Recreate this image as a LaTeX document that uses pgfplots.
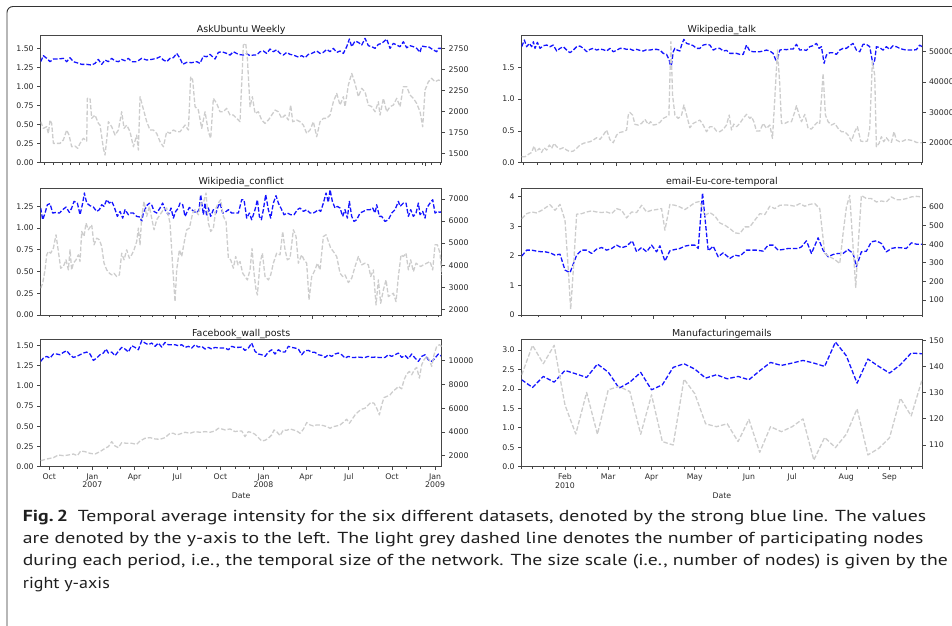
\documentclass[border=0pt]{standalone}
\usepackage{pgfplots}
\pgfplotsset{compat=1.18}
\usepackage{fontspec}
\usepackage{graphicx}
\setmainfont{DejaVu Sans}
\newfontfamily\capfont{PT Sans}
\definecolor{gry}{RGB}{205,205,205}
\definecolor{blu}{RGB}{20,20,255}
\definecolor{spine}{RGB}{70,70,70}
\definecolor{tl}{RGB}{40,40,40}
\newlength\capw
\newcommand\fitline[2]{\settowidth{\capw}{#2}\pgfmathsetmacro\capsx{#1/\capw}\scalebox{\capsx}[1]{#2}}
\pgfplotsset{
  base/.style={scale only axis, height=127bp, xmin=0, xmax=120.3, clip=true,
    axis line style={draw=spine, line width=0.7bp, -},
    tick style={draw=spine, line width=0.7bp},
    tick align=outside, major tick length=3.5bp, minor tick length=2bp,
    tick label style={font=\fontsize{7.8}{9}\selectfont, text=tl},
    scaled ticks=false},
  L/.style={base, width=401bp},
  R/.style={base, width=400.3bp},
  lft/.style={xtick pos=bottom, ytick pos=left, ymin=0,
     title style={at={(0.5,1)}, anchor=base, yshift=-2.5bp, inner sep=0pt, font=\fontsize{9.5}{11}\selectfont, text=black!90}},
  rgt/.style={axis x line=none, axis y line*=right, xtick=\empty},
  blu/.style={color=blu, line width=1.3bp, dash pattern=on 4.5bp off 2bp, no markers, line join=round},
  gry/.style={color=gry, line width=1.3bp, dash pattern=on 4.5bp off 2bp, no markers, line join=round},
}
\begin{document}
\begin{tikzpicture}
\useasboundingbox (0,0) rectangle (952bp,-626bp);
\draw[black!80, line width=0.9bp, rounded corners=6bp] (7bp,-626bp) -- (7bp,-6.5bp) -- (952bp,-6.5bp);

% ---------------- AskUbuntu Weekly
\begin{axis}[L, lft, at={(40.7bp,-162.7bp)}, anchor=south west, title={AskUbuntu Weekly}, ymax=1.666,
  ytick={0,0.25,0.5,0.75,1,1.25,1.5}, yticklabels={0.00,0.25,0.50,0.75,1.00,1.25,1.50},
  xtick={19.6,51.3,83.0,115.3}, xticklabels={}, minor xtick={1.12,3.76,...,120}]
\addplot[blu] coordinates {(0,1.325)(0.8,1.404)(1.8,1.369)(2.8,1.325)(3.8,1.36)(5.3,1.36)(6.8,1.369)(7.8,1.325)(8.8,1.377)(9.8,1.325)(10.8,1.312)(12.3,1.29)(13.8,1.29)(15.3,1.281)(16.3,1.303)(17.3,1.355)(18.3,1.29)(19.3,1.347)(20.3,1.325)(21.3,1.369)(22.3,1.334)(23.3,1.325)(24.3,1.355)(25.3,1.338)(26.3,1.369)(27.3,1.325)(28.8,1.325)(30.3,1.369)(31.8,1.347)(33.3,1.355)(34.8,1.369)(35.8,1.39)(36.8,1.347)(37.8,1.325)(38.8,1.369)(39.8,1.377)(40.8,1.434)(41.8,1.369)(42.6,1.29)(43.8,1.316)(45.3,1.312)(46.8,1.325)(47.8,1.303)(48.8,1.399)(49.8,1.39)(50.8,1.421)(52.3,1.36)(53.3,1.447)(54.3,1.456)(55.8,1.434)(56.8,1.412)(57.8,1.456)(59.3,1.421)(60.8,1.412)(61.8,1.43)(62.8,1.404)(63.8,1.412)(64.8,1.412)(65.8,1.456)(66.8,1.465)(67.8,1.434)(68.8,1.491)(69.8,1.456)(70.8,1.482)(71.8,1.434)(72.8,1.412)(73.8,1.447)(74.8,1.421)(75.8,1.412)(77.3,1.386)(78.3,1.404)(79.3,1.377)(80.3,1.421)(81.3,1.434)(82.8,1.465)(83.8,1.434)(84.8,1.447)(85.8,1.487)(86.8,1.456)(87.8,1.5)(88.8,1.447)(89.8,1.465)(90.8,1.434)(91.8,1.522)(92.6,1.622)(93.3,1.522)(94.3,1.596)(95.3,1.578)(96.3,1.543)(97.3,1.631)(98.3,1.535)(99.3,1.522)(100.3,1.5)(101.3,1.552)(102.3,1.565)(103.8,1.622)(104.8,1.5)(105.8,1.565)(106.8,1.543)(107.8,1.522)(108.8,1.587)(109.8,1.508)(110.8,1.535)(111.8,1.522)(112.8,1.5)(113.8,1.447)(114.3,1.53)(115.3,1.522)(116.3,1.522)(117.8,1.478)(118.8,1.456)(119.3,1.5)(120.3,1.5)};
\end{axis}
\begin{axis}[L, rgt, at={(40.7bp,-162.7bp)}, anchor=south west, ymin=1389, ymax=2901,
  ytick={1500,1750,2000,2250,2500,2750}, yticklabels={1500,1750,2000,2250,2500,2750}]
\addplot[gry] coordinates {(0,1877)(0.8,1798)(1.8,1817)(2.3,1738)(2.8,1897)(3.3,1857)(3.8,1619)(4.8,1619)(5.8,1619)(6.8,1659)(7.8,1778)(8.5,1718)(9.3,1579)(10.3,1587)(11.1,1560)(11.8,1619)(12.8,1679)(13.8,1647)(14.0,2155)(14.8,2155)(15.3,1917)(16.3,1956)(17.3,1857)(17.8,1837)(18.8,1560)(19.3,1480)(19.8,1659)(20.3,1877)(21.3,1817)(22.3,1718)(23.3,1778)(24.3,1996)(25.0,1798)(25.8,1837)(26.8,1758)(27.8,1579)(28.8,1718)(29.3,1540)(29.8,2175)(30.6,2056)(31.8,1877)(32.8,1778)(33.8,1778)(34.8,1738)(35.8,1639)(36.8,1579)(37.8,1758)(38.8,1738)(39.8,1778)(40.8,1758)(41.8,1758)(43.3,1837)(44.3,1778)(45.0,2413)(45.6,2373)(46.3,2056)(47.3,2016)(48.3,1798)(49.3,1996)(50.3,1758)(51.0,1679)(51.8,2155)(52.8,2095)(53.8,1996)(54.8,1996)(55.8,2036)(56.8,1956)(57.8,1956)(58.8,1917)(59.8,1877)(60.8,2790)(61.5,2810)(62.0,2631)(62.8,2056)(63.5,2175)(64.3,1976)(65.3,1996)(66.3,1897)(67.3,1857)(68.3,1897)(69.3,1956)(70.3,2016)(71.3,1996)(72.3,1917)(73.3,1956)(74.3,1897)(75.0,2075)(75.6,1877)(76.8,1897)(77.8,1877)(78.8,1837)(79.8,1738)(80.8,1778)(81.8,1877)(82.8,1698)(83.8,1877)(84.8,1917)(85.8,1917)(86.8,1956)(87.8,2115)(88.8,2214)(89.8,2075)(90.8,2175)(91.3,2056)(92.3,2314)(93.3,2452)(94.3,2333)(95.3,2175)(96.3,2274)(97.3,2234)(98.3,2075)(99.3,2056)(100.3,1996)(101.3,2115)(101.8,1956)(102.8,2155)(103.8,1996)(104.8,2056)(105.8,2075)(106.8,2155)(107.8,2056)(108.8,2294)(109.8,2294)(110.8,2194)(111.8,2155)(112.8,2095)(113.8,1996)(114.6,1817)(115.3,2254)(116.3,2353)(117.3,2393)(118.3,2353)(119.3,2373)(120.3,2365)};
\end{axis}

% ---------------- Wikipedia_talk
\begin{axis}[R, lft, at={(521.7bp,-162.7bp)}, anchor=south west, title={Wikipedia\_talk}, ymax=1.998, xmax=120.2,
  ytick={0,0.5,1,1.5}, yticklabels={0.0,0.5,1.0,1.5},
  xtick={28.5,76.3}, xticklabels={}, minor xtick={0.64,4.62,...,120}]
\addplot[blu] coordinates {(0,1.825)(0.8,1.93)(1.5,1.825)(2.3,1.877)(3.0,1.825)(3.5,1.903)(4.0,1.799)(4.7,1.893)(5.5,1.799)(6.5,1.841)(7.5,1.851)(8.5,1.825)(9.5,1.851)(10.5,1.757)(11.5,1.799)(12.5,1.825)(13.5,1.772)(14.5,1.73)(15.5,1.772)(16.5,1.825)(17.5,1.835)(18.5,1.799)(19.5,1.746)(20.5,1.783)(21.5,1.799)(22.5,1.772)(23.5,1.788)(24.5,1.778)(25.5,1.757)(26.5,1.799)(27.5,1.746)(28.5,1.767)(29.5,1.799)(30.5,1.799)(31.5,1.783)(32.5,1.788)(33.5,1.767)(34.5,1.783)(35.5,1.767)(36.5,1.757)(37.5,1.778)(38.5,1.772)(39.5,1.783)(40.5,1.783)(41.5,1.772)(42.5,1.72)(43.5,1.704)(44.3,1.615)(44.8,1.473)(45.5,1.746)(46.0,1.799)(46.7,1.772)(47.5,1.757)(48.0,1.851)(48.7,1.94)(49.5,1.877)(50.5,1.862)(51.5,1.841)(52.5,1.799)(53.5,1.799)(54.5,1.851)(55.5,1.862)(56.5,1.851)(57.5,1.772)(58.5,1.799)(59.5,1.799)(60.5,1.757)(61.5,1.767)(62.5,1.72)(63.5,1.72)(64.5,1.72)(65.5,1.704)(66.5,1.704)(67.5,1.851)(68.5,1.757)(69.5,1.746)(70.5,1.746)(71.5,1.746)(72.5,1.757)(73.5,1.772)(74.5,1.757)(75.5,1.72)(76.3,1.615)(76.8,1.626)(77.5,1.772)(78.5,1.783)(79.5,1.778)(80.5,1.788)(81.5,1.788)(82.5,1.862)(83.5,1.772)(84.5,1.778)(85.5,1.767)(86.5,1.825)(87.5,1.841)(88.5,1.877)(89.3,1.799)(90.0,1.825)(90.8,1.563)(91.5,1.694)(92.5,1.73)(93.5,1.73)(94.5,1.704)(95.5,1.772)(96.5,1.799)(97.5,1.799)(98.5,1.841)(99.5,1.877)(100.5,1.772)(101.5,1.746)(102.5,1.862)(103.5,1.862)(104.5,1.825)(105.5,1.536)(106.0,1.615)(106.5,1.825)(107.5,1.81)(108.5,1.772)(109.5,1.825)(110.5,1.783)(111.5,1.841)(112.5,1.825)(113.5,1.799)(114.5,1.783)(115.5,1.772)(116.5,1.772)(117.5,1.772)(118.5,1.778)(119.5,1.851)(120.2,1.825)};
\end{axis}
\begin{axis}[R, rgt, at={(521.7bp,-162.7bp)}, anchor=south west, ymin=13407, ymax=55275, xmax=120.2,
  ytick={20000,30000,40000,50000}, yticklabels={20000,30000,40000,50000}]
\addplot[gry] coordinates {(0,15381)(1.0,15381)(2.0,16151)(3.0,16810)(3.7,18898)(4.3,17030)(5.3,18129)(6.0,16810)(6.7,18349)(7.5,17580)(8.3,19228)(9.0,18129)(9.7,19778)(10.5,18678)(11.5,17909)(12.5,18349)(13.5,17580)(14.5,17030)(15.5,17250)(16.5,18129)(17.5,19228)(18.5,19778)(19.5,20107)(20.5,20327)(21.5,20876)(22.5,21646)(23.5,21096)(24.5,22525)(25.5,24174)(26.5,20986)(27.5,19997)(28.5,22525)(29.5,23404)(30.5,23624)(31.5,24174)(32.0,29119)(32.5,29998)(33.3,29119)(34.0,26042)(35.0,25822)(36.0,26372)(37.0,27691)(38.0,26042)(38.7,26921)(39.5,25822)(40.5,26042)(41.5,26701)(42.5,28020)(43.5,28569)(44.2,29119)(44.8,53297)(45.3,35713)(46.0,29119)(47.0,28020)(48.0,29119)(48.7,32416)(49.5,29119)(50.5,24943)(51.5,26372)(52.5,26921)(53.5,27471)(54.5,25822)(55.5,23624)(56.5,25273)(57.5,25273)(58.5,23844)(59.5,23624)(60.5,24393)(61.5,25822)(62.3,29119)(63.0,24174)(63.7,26141)(64.5,25273)(65.5,26372)(66.5,28020)(67.5,29339)(68.5,28020)(69.0,28569)(69.7,26921)(70.5,23844)(71.5,23844)(72.5,26372)(73.5,24723)(74.5,25822)(75.3,21426)(76.0,34614)(76.8,50550)(77.5,39010)(78.0,26372)(79.0,26372)(80.0,26921)(81.0,26921)(82.0,30218)(82.5,32196)(83.3,29119)(84.0,26921)(85.0,29339)(86.0,24723)(87.0,24503)(88.0,25822)(89.0,26921)(89.5,26372)(90.5,42857)(91.2,29119)(92.0,26921)(93.0,25822)(94.0,26372)(95.0,24723)(96.0,23624)(97.0,23624)(98.0,22525)(99.0,20547)(100.0,23624)(100.8,25273)(101.8,20547)(102.8,20327)(103.8,20547)(104.5,24723)(105.3,46703)(106.0,42307)(106.5,18678)(107.3,19778)(108.0,21976)(108.7,20327)(109.5,21646)(110.3,20547)(111.0,20107)(111.8,23624)(112.5,20876)(113.5,20327)(114.5,20547)(115.5,21096)(116.5,20876)(117.5,20657)(118.5,20107)(119.5,19997)(120.2,19997)};
\end{axis}

% ---------------- Wikipedia_conflict
\begin{axis}[L, lft, at={(40.7bp,-315bp)}, anchor=south west, title={Wikipedia\_conflict}, ymax=1.4615,
  ytick={0,0.25,0.5,0.75,1,1.25}, yticklabels={0.00,0.25,0.50,0.75,1.00,1.25},
  xtick={40.3,81.5}, xticklabels={}, minor xtick={2.57,6.0,...,120}]
\addplot[blu] coordinates {(0,1.231)(0.6,1.096)(1.3,1.173)(2.0,1.269)(2.8,1.281)(3.6,1.173)(4.6,1.181)(5.6,1.173)(6.6,1.212)(7.6,1.242)(8.6,1.181)(9.3,1.231)(10.0,1.308)(11.0,1.288)(11.8,1.154)(12.6,1.288)(13.1,1.404)(13.8,1.288)(14.8,1.258)(15.8,1.242)(16.8,1.192)(17.6,1.212)(18.3,1.269)(19.0,1.25)(19.8,1.327)(20.6,1.288)(21.3,1.308)(22.0,1.25)(23.0,1.135)(23.8,1.192)(24.6,1.115)(25.3,1.212)(26.3,1.154)(27.0,1.173)(27.8,1.173)(28.8,1.135)(29.8,1.127)(30.3,1.077)(30.8,1.173)(31.8,1.258)(32.6,1.288)(33.3,1.269)(34.0,1.192)(34.8,1.173)(35.8,1.231)(36.6,1.288)(37.3,1.212)(38.3,1.154)(39.1,1.231)(39.8,1.115)(40.5,1.192)(41.3,1.231)(41.8,1.288)(42.6,1.269)(43.3,1.135)(44.0,1.192)(44.6,1.238)(45.3,1.212)(46.0,1.192)(46.8,1.173)(47.5,1.212)(48.0,1.385)(48.8,1.154)(49.3,1.288)(49.8,1.135)(50.3,1.231)(51.0,1.135)(51.8,1.212)(52.6,1.173)(53.3,1.258)(53.8,1.288)(54.6,1.173)(55.3,1.181)(56.3,1.212)(57.3,1.173)(58.3,1.173)(59.3,1.173)(60.3,1.327)(61.0,1.327)(61.8,1.115)(62.6,1.173)(63.3,1.096)(64.3,1.212)(65.0,1.327)(65.6,1.135)(66.2,1.096)(66.8,1.212)(67.5,1.385)(68.3,1.212)(69.0,1.115)(69.8,1.288)(70.6,1.373)(71.3,1.288)(72.3,1.212)(73.0,1.154)(74.0,1.173)(75.0,1.154)(76.0,1.154)(77.0,1.212)(77.8,1.231)(78.8,1.192)(79.8,1.212)(80.8,1.173)(81.8,1.173)(82.6,1.192)(83.3,1.212)(84.0,1.192)(84.8,1.288)(85.6,1.404)(86.3,1.296)(86.8,1.442)(87.5,1.308)(88.3,1.231)(89.0,1.25)(89.8,1.231)(90.6,1.135)(91.3,1.212)(92.0,1.115)(92.6,1.308)(93.3,1.135)(94.0,1.077)(94.8,1.096)(95.8,1.173)(96.8,1.192)(97.8,1.212)(98.8,1.212)(99.6,1.231)(100.3,1.173)(100.8,1.269)(101.6,1.135)(102.3,1.135)(103.3,1.077)(104.3,1.096)(105.3,1.173)(106.3,1.212)(107.3,1.308)(107.8,1.25)(108.8,1.288)(109.6,1.288)(110.3,1.135)(111.0,1.212)(111.8,1.135)(112.6,1.173)(113.3,1.288)(113.8,1.154)(114.6,1.192)(115.3,1.115)(115.8,1.231)(116.8,1.288)(117.6,1.327)(118.3,1.173)(119.0,1.192)(119.8,1.181)(120.3,1.192)};
\end{axis}
\begin{axis}[L, rgt, at={(40.7bp,-315bp)}, anchor=south west, ymin=1742, ymax=7500,
  ytick={2000,3000,4000,5000,6000,7000}, yticklabels={2000,3000,4000,5000,6000,7000}]
\addplot[gry] coordinates {(0,2955)(0.6,3182)(1.3,3788)(1.8,4470)(2.3,4621)(3.0,4546)(3.8,4773)(4.6,5379)(5.3,4621)(6.0,3864)(6.8,3940)(7.6,4243)(8.3,3788)(8.8,4697)(9.3,3788)(9.8,4091)(10.6,4243)(11.3,4470)(11.8,4167)(12.3,5530)(13.0,5303)(13.6,5909)(14.3,5606)(15.3,5833)(16.0,4924)(16.8,5227)(17.6,5152)(18.3,4849)(19.0,4091)(19.8,3788)(20.6,3637)(21.3,3561)(22.0,3637)(22.8,3485)(23.6,3561)(24.3,4546)(25.0,4243)(25.8,4697)(26.6,4318)(27.3,4470)(28.0,4697)(28.8,5076)(29.3,5682)(29.8,4924)(30.3,6212)(31.0,6894)(31.8,6212)(32.6,6667)(33.3,6136)(34.0,5606)(34.8,6061)(35.8,6288)(36.8,6515)(37.8,6591)(38.8,5909)(39.6,3940)(40.3,2349)(40.8,3788)(41.6,4697)(42.3,4394)(43.0,5000)(43.8,5606)(44.6,5682)(45.6,6364)(46.3,6515)(47.3,6288)(48.1,6818)(48.8,6818)(49.6,7273)(50.3,5909)(51.0,5530)(51.8,5682)(52.6,6591)(53.3,6818)(54.0,6970)(54.8,6212)(55.6,5985)(56.3,4318)(57.0,4243)(57.8,3864)(58.5,4394)(59.2,4015)(59.8,4167)(60.6,3637)(61.3,3485)(62.0,3334)(62.8,3788)(63.4,4758)(64.0,3637)(64.6,2879)(65.0,2652)(65.8,4091)(66.5,4546)(67.3,3485)(68.3,3334)(69.0,3561)(69.8,4091)(70.8,4546)(71.8,4470)(72.6,5530)(73.3,4697)(74.0,4243)(74.8,4318)(75.8,5606)(76.6,5303)(77.3,4091)(78.3,4470)(79.0,4243)(79.8,4091)(80.5,2425)(81.3,3485)(82.3,3788)(83.0,4091)(83.8,3788)(84.8,5303)(85.6,5379)(86.3,5076)(87.0,4773)(87.8,4621)(88.8,4394)(89.8,3637)(90.6,3485)(91.3,3561)(92.3,3213)(93.3,3410)(94.3,3940)(95.3,4394)(96.3,4015)(97.3,4091)(98.3,4015)(99.0,3485)(99.8,3788)(100.6,2197)(101.3,3334)(102.0,2273)(102.8,2879)(103.6,3334)(104.3,2576)(105.0,2652)(105.8,2728)(106.6,2349)(107.3,3485)(108.1,4470)(108.8,4394)(109.6,4546)(110.3,3788)(111.0,4243)(111.8,3712)(112.6,4091)(113.3,4015)(114.0,3940)(114.8,4015)(115.8,4091)(116.8,4167)(117.6,3788)(118.3,4924)(119.0,4924)(119.8,4546)(120.3,3561)};
\end{axis}

% ---------------- email-Eu-core-temporal
\begin{axis}[R, lft, at={(521.7bp,-315bp)}, anchor=south west, title={email-Eu-core-temporal}, ymax=4.29, xmax=120.2,
  ytick={0,1,2,3,4}, yticklabels={0,1,2,3,4},
  xtick={18,39.5,61,84,103.5}, xticklabels={}, minor xtick={0,5,11.5,24.5,33,45.5,51.5,66.5,73.5,91.5,97.5,108.5,114.5,120.2}]
\addplot[blu] coordinates {(0,1.989)(1.5,2.191)(3.0,2.191)(4.5,2.157)(6.0,2.135)(7.0,2.135)(8.5,2.101)(10.0,2.022)(11.5,2.056)(13.0,1.517)(14.5,1.427)(16.5,2.022)(18.0,2.191)(19.5,2.191)(21.0,2.079)(22.5,2.225)(24.0,2.281)(25.5,2.191)(27.0,2.247)(28.5,2.36)(30.0,2.27)(31.5,2.326)(33.2,2.506)(34.5,2.135)(36.0,2.281)(37.5,2.135)(39.0,2.36)(40.5,2.135)(41.5,2.337)(43.0,1.82)(44.5,2.169)(46.0,2.213)(47.5,2.247)(49.0,2.326)(50.5,2.36)(52.0,2.36)(53.0,2.247)(54.3,4.124)(56.0,2.169)(57.5,2.326)(59.0,1.966)(60.5,2.101)(62.5,1.91)(64.0,2.022)(65.5,1.989)(67.5,2.191)(69.0,2.191)(70.5,2.191)(72.5,2.157)(74.0,2.36)(75.5,2.36)(77.0,2.191)(78.5,2.213)(80.0,2.247)(81.5,2.247)(83.0,2.247)(84.0,2.303)(85.5,2.506)(87.0,2.079)(89.0,2.607)(90.5,2.191)(92.0,1.966)(93.5,2.045)(95.0,2.079)(96.5,2.079)(98.0,2.213)(99.5,2.079)(100.5,1.629)(102.0,2.135)(103.5,2.157)(105.0,2.472)(106.5,2.506)(108.0,2.416)(109.5,2.135)(111.0,2.247)(112.5,2.281)(114.0,2.27)(115.5,2.247)(117.0,2.438)(118.5,2.393)(120.2,2.393)};
\end{axis}
\begin{axis}[R, rgt, at={(521.7bp,-315bp)}, anchor=south west, ymin=19.6, ymax=701.8, xmax=120.2,
  ytick={100,200,300,400,500,600}, yticklabels={100,200,300,400,500,600}]
\addplot[gry] coordinates {(0,537)(1.5,564)(3.0,573)(4.5,568)(6.0,582)(7.5,600)(8.5,612)(10.0,582)(11.5,614)(13.0,529)(14.0,261)(14.7,50)(15.5,261)(16.5,561)(18.0,564)(19.5,573)(21.0,579)(22.5,573)(24.0,570)(25.5,573)(27.0,564)(28.5,591)(30.0,582)(31.5,541)(33.0,573)(34.5,570)(36.0,609)(37.5,573)(39.0,582)(40.5,586)(42.0,591)(43.0,475)(44.5,614)(46.0,609)(47.5,600)(49.0,586)(50.5,604)(52.0,623)(53.5,630)(55.0,555)(56.5,570)(58.0,552)(59.5,514)(61.0,502)(62.5,484)(64.0,461)(65.5,457)(67.0,493)(68.5,493)(70.0,529)(71.5,564)(73.0,559)(74.5,604)(76.0,591)(77.5,609)(79.0,611)(80.5,609)(82.0,604)(83.5,618)(85.0,604)(86.5,614)(88.0,618)(89.5,591)(91.0,350)(92.5,332)(94.0,318)(95.5,296)(96.5,457)(97.5,600)(98.5,662)(99.3,439)(100.3,168)(101.2,439)(102.0,662)(103.5,645)(105.0,645)(106.5,627)(108.0,632)(109.5,627)(111.0,654)(112.5,639)(114.0,639)(115.5,645)(117.0,654)(118.5,657)(120.2,654)};
\end{axis}

% ---------------- Facebook_wall_posts
\begin{axis}[L, lft, at={(40.7bp,-466.7bp)}, anchor=south west, title={Facebook\_wall\_posts}, ymax=1.57,
  ytick={0,0.25,0.5,0.75,1,1.25,1.5}, yticklabels={0.00,0.25,0.50,0.75,1.00,1.25,1.50},
  xtick={2.56,15.5,28.16,40.96,53.9,66.84,79.64,92.44,105.38,118.32},
  xticklabels={Oct,Jan\\2007,Apr,Jul,Oct,Jan\\2008,Apr,Jul,Oct,Jan\\2009},
  xticklabel style={align=center, font=\fontsize{7.8}{8.6}\selectfont},
  minor xtick={6.92,11.14,19.86,23.8,32.38,36.74,45.32,49.68,58.26,62.48,71.2,75.28,83.86,88.22,96.8,101.16,109.74,113.96},
  xlabel={Date}, xlabel style={at={(axis description cs:0.5,0)}, anchor=base, yshift=-31.3bp, inner sep=0pt, font=\fontsize{7.8}{9}\selectfont, text=tl}]
\addplot[blu] coordinates {(0,1.302)(0.8,1.343)(1.8,1.364)(2.8,1.343)(3.8,1.393)(4.8,1.393)(5.8,1.384)(6.8,1.413)(7.8,1.434)(8.8,1.384)(9.8,1.351)(10.8,1.364)(11.8,1.384)(12.8,1.405)(13.8,1.417)(14.8,1.393)(15.8,1.314)(16.8,1.343)(17.8,1.384)(18.8,1.405)(19.6,1.455)(20.3,1.405)(21.3,1.417)(22.3,1.372)(23.3,1.426)(24.3,1.475)(25.3,1.455)(26.3,1.417)(27.3,1.496)(28.3,1.475)(29.3,1.446)(30.3,1.558)(31.3,1.529)(32.3,1.508)(33.3,1.529)(34.3,1.488)(35.3,1.529)(36.3,1.479)(37.3,1.537)(38.3,1.508)(39.3,1.508)(40.3,1.508)(41.3,1.496)(42.3,1.508)(43.3,1.475)(44.3,1.488)(45.3,1.467)(46.3,1.508)(47.3,1.479)(48.3,1.488)(49.3,1.455)(50.3,1.475)(51.3,1.455)(52.3,1.475)(53.3,1.467)(54.3,1.467)(55.3,1.467)(56.3,1.446)(57.3,1.488)(58.3,1.475)(59.3,1.475)(60.3,1.479)(61.3,1.438)(62.3,1.467)(63.3,1.529)(64.3,1.426)(65.3,1.393)(66.3,1.384)(67.3,1.364)(68.3,1.417)(69.3,1.446)(70.3,1.393)(71.3,1.446)(72.3,1.417)(73.3,1.417)(74.3,1.488)(75.3,1.475)(76.3,1.467)(77.3,1.455)(78.3,1.384)(79.3,1.434)(80.3,1.438)(81.3,1.417)(82.3,1.413)(83.3,1.384)(84.3,1.376)(85.3,1.351)(86.3,1.384)(87.3,1.364)(88.3,1.393)(89.3,1.405)(90.3,1.384)(91.3,1.343)(92.3,1.364)(93.3,1.351)(94.3,1.351)(95.3,1.355)(96.3,1.351)(97.3,1.351)(98.3,1.364)(99.3,1.351)(100.3,1.355)(101.3,1.351)(102.3,1.351)(103.3,1.351)(104.3,1.384)(105.3,1.364)(106.3,1.384)(107.3,1.405)(108.3,1.351)(109.3,1.376)(110.3,1.335)(111.3,1.393)(112.3,1.343)(113.3,1.302)(114.3,1.364)(115.3,1.384)(116.3,1.322)(117.3,1.302)(118.3,1.343)(119.3,1.393)(120.3,1.364)};
\end{axis}
\begin{axis}[L, rgt, at={(40.7bp,-466.7bp)}, anchor=south west, ymin=1070, ymax=11775,
  ytick={2000,4000,6000,8000,10000}, yticklabels={2000,4000,6000,8000,10000}]
\addplot[gry] coordinates {(0,1577)(1.8,1718)(3.8,1831)(5.3,2056)(6.8,2000)(8.3,2056)(9.8,2141)(11.0,2000)(12.0,2394)(13.3,2338)(14.8,2197)(16.3,2141)(17.8,2338)(19.3,2620)(20.3,2760)(21.3,3183)(22.3,2817)(23.3,2676)(24.3,3099)(25.8,3042)(27.3,3042)(28.8,2958)(29.8,3239)(31.3,3465)(32.8,3521)(34.3,3408)(35.8,3380)(37.3,3521)(38.8,3887)(39.8,3887)(40.8,3746)(41.8,3831)(43.3,3972)(44.8,3887)(46.3,4028)(47.8,3972)(49.3,4028)(50.8,3972)(52.3,4085)(53.3,4310)(54.3,4254)(55.3,4169)(56.8,4254)(58.3,4028)(59.3,4085)(60.3,4085)(61.3,3606)(62.3,4028)(63.3,3944)(64.3,3803)(65.3,3521)(66.3,3239)(67.3,3296)(68.3,3465)(69.3,3746)(70.0,4169)(70.8,4028)(71.8,3690)(72.8,4169)(73.8,4141)(74.8,4254)(75.8,4169)(76.8,4085)(77.8,3887)(78.8,4225)(79.8,4789)(80.8,4592)(81.8,4507)(82.8,4592)(83.8,4592)(84.8,4535)(85.8,4451)(86.8,4310)(87.8,4451)(88.8,4507)(89.8,4592)(90.8,4817)(91.8,5070)(92.6,4732)(93.3,5014)(94.3,5437)(95.3,5718)(96.3,5915)(97.3,6000)(98.3,6282)(99.0,6479)(100.0,6422)(100.8,6000)(101.6,5437)(102.3,6282)(103.0,6901)(103.8,6986)(104.8,7127)(105.8,7465)(106.6,7634)(107.3,7831)(108.3,7634)(109.0,8394)(109.8,8873)(110.6,9099)(111.3,8817)(112.1,9239)(112.8,9437)(113.6,8535)(114.3,9662)(115.0,10085)(115.8,10366)(116.6,10085)(117.3,9521)(118.0,10507)(118.8,11211)(119.6,11352)(120.3,11211)};
\end{axis}

% ---------------- Manufacturingemails
\begin{axis}[R, lft, at={(521.7bp,-466.7bp)}, anchor=south west, title={Manufacturingemails}, xmin=0, xmax=37, ymax=3.267,
  ytick={0,0.5,1,1.5,2,2.5,3}, yticklabels={0.0,0.5,1.0,1.5,2.0,2.5,3.0},
  xtick={4,8,12,16,21,25,30,34},
  xticklabels={Feb\\2010,Mar,Apr,May,Jun,Jul,Aug,Sep},
  xticklabel style={align=center, font=\fontsize{7.8}{8.6}\selectfont},
  minor xtick={0,1,...,37},
  xlabel={Date}, xlabel style={at={(axis description cs:0.5,0)}, anchor=base, yshift=-31.3bp, inner sep=0pt, font=\fontsize{7.8}{9}\selectfont, text=tl}]
\addplot[blu] coordinates {(0,2.236)(1,2.038)(2,2.322)(3,2.175)(4,2.476)(5,2.39)(6,2.296)(7,2.64)(8,2.433)(9,2.021)(10,2.175)(11,2.425)(12,1.978)(13,2.107)(14,2.554)(15,2.648)(16,2.511)(17,2.279)(18,2.365)(19,2.261)(20,2.322)(21,2.236)(22,2.468)(23,2.683)(24,2.605)(25,2.666)(26,2.734)(27,2.666)(28,2.58)(29,3.207)(30,2.855)(31,2.15)(32,2.769)(33,2.58)(34,2.408)(35,2.623)(36,2.924)(37,2.906)};
\end{axis}
\begin{axis}[R, rgt, at={(521.7bp,-466.7bp)}, anchor=south west, xmin=0, xmax=37, ymin=101.7, ymax=150.26,
  ytick={110,120,130,140,150}, yticklabels={110,120,130,140,150}]
\addplot[gry] coordinates {(0,136.8)(1,148.1)(2,141.1)(3,148.1)(4,125.3)(5,114.2)(6,130.1)(7,114.1)(8,131.1)(9,132.4)(10,130.4)(11,114.1)(12,129.2)(13,111.3)(14,110.0)(15,135.2)(16,129.6)(17,118.1)(18,117.0)(19,118.1)(20,111.3)(21,119.8)(22,107.2)(23,117.0)(24,115.1)(25,117.0)(26,120.0)(27,104.2)(28,112.9)(29,109.0)(30,114.1)(31,123.8)(32,106.2)(33,108.7)(34,112.8)(35,127.9)(36,121.1)(37,134.9)};
\end{axis}

% ---------------- caption
\begin{scope}[every node/.style={anchor=base west, inner sep=0pt, font=\capfont\fontsize{16}{19}\selectfont, text=black!88}]
\node at (22.7bp,-521bp) {\fitline{906.7}{{\bfseries Fig.\,2}\hspace{8pt}Temporal average intensity for the six different datasets, denoted by the strong blue line. The values}};
\node at (22.7bp,-543.4bp) {\fitline{904}{are denoted by the y-axis to the left. The light grey dashed line denotes the number of participating nodes}};
\node at (22.7bp,-565.8bp) {\fitline{928.5}{during each period, i.e., the temporal size of the network. The size scale (i.e., number of nodes) is given by the}};
\node at (22.7bp,-588.3bp) {\fitline{87.3}{right y-axis}};
\end{scope}
\end{tikzpicture}
\end{document}
